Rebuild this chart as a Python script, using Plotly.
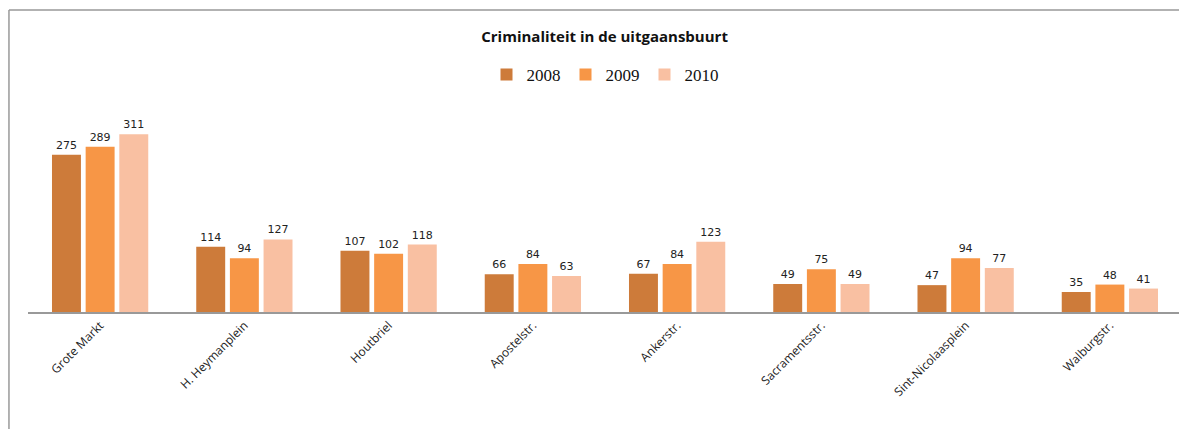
import plotly.graph_objects as go

locaties = ["Grote Markt", "H. Heymanplein", "Houtbriel", "Apostelstr.",
            "Ankerstr.", "Sacramentsstr.", "Sint-Nicolaasplein", "Walburgstr."]
jaren = ["2008", "2009", "2010"]
waarden_2008 = [275, 114, 107, 66, 67, 49, 47, 35]
waarden_2009 = [289, 94, 102, 84, 84, 75, 94, 48]
waarden_2010 = [311, 127, 118, 63, 123, 49, 77, 41]
kleuren = ["#CD7B3A", "#F79646", "#F9C0A2"]

fig = go.Figure()
for jaar, waarden, kleur in zip(jaren, [waarden_2008, waarden_2009, waarden_2010], kleuren):
    fig.add_trace(go.Bar(
        x=locaties, y=waarden, name=jaar,
        marker=dict(color=kleur, line=dict(width=0)),
        text=[str(v) for v in waarden],
        textposition="outside",
        cliponaxis=False,
        textfont=dict(family="DejaVu Sans", size=11, color="#222222"),
    ))

# de pagina heeft 8px marge rond de grafiek, daarom 1179x421
fig.update_layout(
    width=1179, height=421,
    barmode="group",
    bargap=0.3,
    bargroupgap=0.14,
    paper_bgcolor="white",
    plot_bgcolor="white",
    title=dict(text="<b>Criminaliteit in de uitgaansbuurt</b>",
               x=0.506, xanchor="center", y=0.931, yanchor="middle",
               font=dict(family="Open Sans", size=15, color="#111111")),
    legend=dict(orientation="h", x=0.50, xanchor="center", y=1.185, yanchor="middle",
                font=dict(family="Liberation Serif", size=17, color="#111111"),
                itemwidth=30, tracegroupgap=0, traceorder="normal"),
    margin=dict(l=20, r=5, t=104, b=117, autoexpand=False),
    xaxis=dict(showline=True, linecolor="#999999", linewidth=1.5,
               tickangle=-45, ticks="", automargin=False,
               tickfont=dict(family="Open Sans", size=12, color="#222222")),
    yaxis=dict(range=[0, 350], visible=False, showgrid=False, automargin=False),
)

# kader (alleen boven- en linkerrand zichtbaar)
fig.add_shape(type="line", xref="paper", yref="paper",
              x0=-0.0165, x1=1.01, y0=1.51, y1=1.51,
              line=dict(color="#999999", width=1.5))
fig.add_shape(type="line", xref="paper", yref="paper",
              x0=-0.0165, x1=-0.0165, y0=1.51, y1=-0.6,
              line=dict(color="#999999", width=1.5))

fig.write_html("out.html")
